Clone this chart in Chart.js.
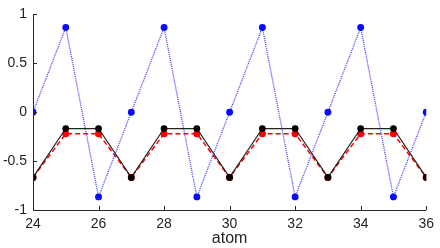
<!DOCTYPE html>
<html><head><meta charset="utf-8">
<script src="https://cdn.jsdelivr.net/npm/chart.js@4/dist/chart.umd.min.js"></script>
<style>html,body{margin:0;padding:0;background:#fff}#w{width:440px;height:248px}</style>
</head><body><div id="w"><canvas id="c" width="440" height="248"></canvas></div>
<script>
const atoms = [24,25,26,27,28,29,30,31,32,33,34,35,36];
const blueVals  = [0,0.866,-0.866,0,0.866,-0.866,0,0.866,-0.866,0,0.866,-0.866,0];
const blackVals = [-0.667,-0.167,-0.167,-0.667,-0.167,-0.167,-0.667,-0.167,-0.167,-0.667,-0.167,-0.167,-0.667];
const redVals   = [-0.667,-0.22,-0.22,-0.667,-0.22,-0.22,-0.667,-0.22,-0.22,-0.667,-0.22,-0.22,-0.667];
const xTicks = [24,26,28,30,32,34,36];
const yTicks = [-1,-0.5,0,0.5,1];
const yTickLabels = ['-1','-0.5','0','0.5','1'];
const xLabel = 'atom';

const pts = (vals) => atoms.map((a,i)=>({x:a,y:vals[i]}));
const axisColor = '#262626';
const innerTicks = {
  id:'innerTicks',
  afterDraw(chart){
    const {ctx, chartArea:a, scales:{x,y}} = chart;
    ctx.save();
    ctx.strokeStyle = axisColor; ctx.lineWidth = 1;
    ctx.beginPath();
    ctx.moveTo(a.left+0.5, a.top); ctx.lineTo(a.left+0.5, a.bottom+0.5); ctx.lineTo(a.right, a.bottom+0.5);
    xTicks.forEach(v=>{const px=Math.round(x.getPixelForValue(v))+0.5; ctx.moveTo(px,a.bottom); ctx.lineTo(px,a.bottom-4);});
    yTicks.forEach(v=>{const py=Math.round(y.getPixelForValue(v))+0.5; ctx.moveTo(a.left,py); ctx.lineTo(a.left+4,py);});
    ctx.stroke();
    ctx.restore();
  }
};
new Chart(document.getElementById('c'), {
  type:'line',
  data:{datasets:[
    {data:pts(blueVals), borderColor:'rgba(30,30,255,0.85)', pointBackgroundColor:'#0a0aff', pointBorderColor:'#0a0aff', borderWidth:1.3, borderDash:[1,1], pointRadius:2.8, order:1},
    {data:pts(blackVals), borderColor:'#222', pointBackgroundColor:'#000', pointBorderColor:'#000', borderWidth:1.2, pointRadius:2.8, order:2},
    {data:pts(redVals), borderColor:'#ff0000', pointBackgroundColor:'#ff0000', pointBorderColor:'#ff0000', borderWidth:1.5, borderDash:[5,3], pointRadius:2.8, order:3}
  ]},
  options:{
    responsive:false, animation:false,
    layout:{padding:{top:13,right:11,left:0,bottom:0}},
    plugins:{legend:{display:false},tooltip:{enabled:false}},
    elements:{line:{tension:0}},
    scales:{
      x:{type:'linear', min:24, max:36,
        afterBuildTicks(s){s.ticks = xTicks.map(v=>({value:v}));},
        afterFit(s){s.height=38;},
        grid:{display:false, drawTicks:false}, border:{display:false},
        ticks:{color:axisColor, font:{family:'Liberation Sans, Arial', size:14}, padding:6, maxRotation:0, autoSkip:false},
        title:{display:true, text:xLabel, color:axisColor, font:{family:'Liberation Sans, Arial', size:16}, padding:{top:3,bottom:0}}
      },
      y:{type:'linear', min:-1, max:1,
        afterBuildTicks(s){s.ticks = yTicks.map(v=>({value:v}));},
        afterFit(s){s.width=33;},
        grid:{display:false, drawTicks:false}, border:{display:false},
        ticks:{color:axisColor, font:{family:'Liberation Sans, Arial', size:14}, padding:6, autoSkip:false,
          callback:(v)=>yTickLabels[yTicks.indexOf(v)]}
      }
    }
  },
  plugins:[innerTicks]
});
</script></body></html>
